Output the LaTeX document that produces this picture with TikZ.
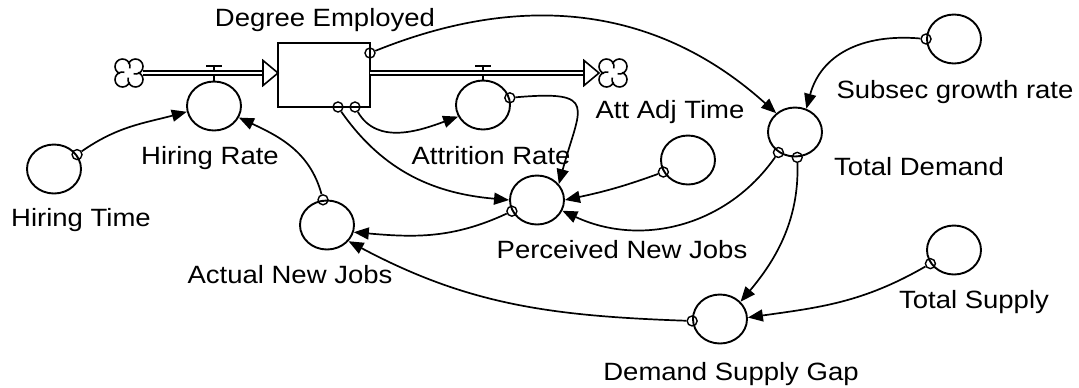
\documentclass[tikz,border=0pt]{standalone}
\usepackage{fontspec}
\setmainfont{Liberation Sans}[FakeStretch=1.1]
\usetikzlibrary{shapes.geometric,arrows.meta}

\tikzset{
  aux/.style={ellipse, draw, line width=1.9pt, minimum width=54pt,
    minimum height=49pt, inner sep=0pt},
  stockbox/.style={rectangle, draw, line width=1.9pt, minimum width=92pt,
    minimum height=64pt, inner sep=0pt, outer sep=0pt},
  lbl/.style={font=\fontsize{25}{30}\selectfont, anchor=base, inner sep=0pt},
  tap/.style={circle, draw, line width=1.4pt, minimum size=10pt, inner sep=0pt},
  link/.style={line width=1.7pt, -{Triangle[length=15pt,width=12pt]}},
  pipe/.style={draw, line width=1.5pt, double=white, double distance=2.8pt},
  pipehead/.style={line width=1.6pt, fill=white, line join=miter},
  valve/.style={line width=1.6pt},
  cloudspot/.style={minimum size=28pt, inner sep=0pt, outer sep=0pt},
  cloudsym/.pic={
    \foreach \a in {45,135,225,315}
      \draw[line width=1.6pt, shift={(\a:9.2pt)}]
        ({\a+115}:7.5pt) arc[start angle=\a+115, end angle=\a-150, radius=7.5pt];
  }
}

\begin{document}
\begin{tikzpicture}[x=1pt,y=1pt]
\useasboundingbox (0,0) rectangle (1079,-388);

% auxiliaries and rates
\node[aux] (hr)  at (214,-106) {};
\node[aux] (ar)  at (483,-105) {};
\node[aux] (ht)  at (54,-169)  {};
\node[aux] (anj) at (327,-225) {};
\node[aux] (pnj) at (537,-200) {};
\node[aux] (aat) at (688,-160) {};
\node[aux] (td)  at (795,-132) {};
\node[aux] (sgr) at (954,-39)  {};
\node[aux] (ts)  at (954,-250) {};
\node[aux] (dsg) at (720,-319) {};

% source and sink clouds
\node[cloudspot] (src) at (129,-73) {};
\node[cloudspot] (snk) at (613,-73) {};
\pic at (src) {cloudsym};
\pic at (snk) {cloudsym};

% valve stems and handles
\draw[valve] (hr.north) -- ++(0,14.5pt) ++(-8pt,0) -- ++(16pt,0);
\draw[valve] (ar.north) -- ++(0,13.5pt) ++(-8pt,0) -- ++(16pt,0);

% stock
\node[stockbox] (emp) at (324,-75) {};

% flow pipes
\coordinate (inTip) at (emp.west |- src.east);
\coordinate (outTip) at (snk.west);
\draw[pipe] (src.east) -- ([xshift=-15pt]inTip);
\draw[pipehead] (inTip) -- ++(-15pt,12.5pt) -- ++(0,-25pt) -- cycle;
\draw[pipe] (emp.east |- snk.west) -- ([xshift=-15pt]outTip);
\draw[pipehead] (outTip) -- ++(-15pt,12.5pt) -- ++(0,-25pt) -- cycle;

% labels
\node[lbl] (l-emp) at (325,-27)  {Degree Employed};
\node[lbl] (l-hr)  at (210,-164) {Hiring Rate};
\node[lbl] (l-ht)  at (81,-226)  {Hiring Time};
\node[lbl] (l-ar)  at (491,-164) {Attrition Rate};
\node[lbl] (l-aat) at (670,-118) {Att Adj Time};
\node[lbl] (l-anj) at (290,-283) {Actual New Jobs};
\node[lbl] (l-pnj) at (622,-258) {Perceived New Jobs};
\node[lbl] (l-td)  at (919,-175) {Total Demand};
\node[lbl] (l-sgr) at (955,-98)  {Subsec growth rate};
\node[lbl] (l-ts)  at (974,-308) {Total Supply};
\node[lbl] (l-dsg) at (731,-380) {Demand Supply Gap};

% connector taps
\node[tap] (o-ht)   at (ht.32) {};
\node[tap] (o-anj)  at (anj.99) {};
\node[tap] (o-emp1) at ([xshift=-32pt]emp.south east) {};
\node[tap] (o-emp2) at ([xshift=-15pt]emp.south east) {};
\node[tap] (o-emp3) at ([yshift=-10pt]emp.north east) {};
\node[tap] (o-ar)   at (ar.15) {};
\node[tap] (o-aat)  at (aat.206) {};
\node[tap] (o-td1)  at (td.231) {};
\node[tap] (o-td2)  at (td.275) {};
\node[tap] (o-pnj)  at (pnj.204) {};
\node[tap] (o-dsg)  at (dsg.184) {};
\node[tap] (o-ts)   at (ts.210) {};
\node[tap] (o-sgr)  at (sgr.180) {};

% information links
\draw[link] (o-ht) to[out=35,in=195] (hr.192);
\draw[link] (o-anj) to[out=105,in=-25] (hr.-25);
\draw[link] (o-emp2) to[out=-60,in=200] (ar.205);
\draw[link] (o-emp1) to[out=-55,in=175] (pnj.180);
\draw[link] (o-emp3) to[out=22,in=138,out distance=160pt,in distance=160pt] (td.135);
\draw[link] (o-ar) to[out=5,in=75,out distance=85pt,in distance=80pt] (pnj.36);
\draw[link] (o-aat) to[out=200,in=12] (pnj.0);
\draw[link] (o-td1) to[out=235,in=-25] (pnj.-23);
\draw[link] (o-pnj) to[out=205,in=-5] (anj.-15);
\draw[link] (o-td2) to[out=-88,in=50,out distance=60pt,in distance=50pt] (dsg.40);
\draw[link] (o-ts) to[out=210,in=8] (dsg.3);
\draw[link] (o-dsg) to[out=178,in=-28] (anj.-37);
\draw[link] (o-sgr) to[out=175,in=75,out distance=60pt,in distance=55pt] (td.64);
\end{tikzpicture}
\end{document}
